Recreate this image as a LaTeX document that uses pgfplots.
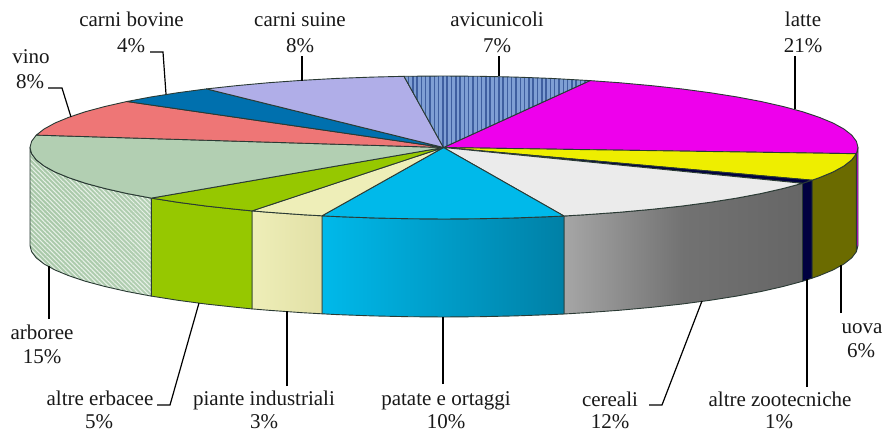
\documentclass[border=0pt]{standalone}
\usepackage{fontspec}
\setmainfont{Liberation Serif}
\usepackage{pgfplots}
\pgfplotsset{compat=1.18}
\usetikzlibrary{patterns.meta}

\definecolor{edge}{HTML}{2A3A34}
\definecolor{latte}{HTML}{EE00EC}
\definecolor{uovatop}{HTML}{EEEE00}
\definecolor{uovaside}{HTML}{6B6B00}
\definecolor{zoo}{HTML}{000040}
\definecolor{cerealitop}{HTML}{EBEBEB}
\definecolor{cerealiL}{HTML}{A6A6A6}
\definecolor{cerealiM}{HTML}{727272}
\definecolor{cerealiR}{HTML}{666666}
\definecolor{patate}{HTML}{00B9EA}
\definecolor{patateR}{HTML}{0080A6}
\definecolor{piante}{HTML}{EEEEB8}
\definecolor{pianteR}{HTML}{E2E0A6}
\definecolor{erbacee}{HTML}{96C800}
\definecolor{arboree}{HTML}{B2CFB2}
\definecolor{arboreeL}{HTML}{A8C8A8}
\definecolor{vino}{HTML}{EE7676}
\definecolor{bovine}{HTML}{0070AE}
\definecolor{suine}{HTML}{B0AEE8}
\definecolor{avi}{HTML}{7F9FD4}
\definecolor{aviline}{HTML}{3F5FA0}

\tikzset{
    lab/.style={anchor=base, inner sep=0pt, font=\fontsize{21}{24}\selectfont, text=black!90},
    slice/.style={draw=edge, line width=0.9pt, line join=round},
    lead/.style={draw=black, line width=1.2pt, line join=miter},
}

\begin{document}
\begin{tikzpicture}
\begin{axis}[
    scale only axis,
    width=884pt,
    height=431pt,
    xmin=0, xmax=884,
    ymin=0, ymax=431,
    y dir=reverse,
    hide axis,
    clip=false,
    no markers,
]
% frame, keeps the page at the full size
\addplot[draw=none, fill=white] coordinates {(0,0)(884,0)(884,431)(0,431)} -- cycle;

% side of the disc
\addplot[slice, fill=latte] coordinates {(858,147.5)(856.4,153.7)(856.4,251.7)(858,245.5)} -- cycle;
\addplot[slice, fill=uovaside] coordinates {(856.4,153.7)(851.7,159.9)(843.9,166)(833,172)(819.2,177.7)(812,180.2)
    (812,278.2)(819.2,275.7)(833,270)(843.9,264)(851.7,257.9)(856.4,251.7)} -- cycle;
\addplot[slice, fill=zoo] coordinates {(812,180.2)(802.5,183.3)(802.5,281.3)(812,278.2)} -- cycle;
\addplot[slice, left color=cerealiL, right color=cerealiR, middle color=cerealiM] coordinates {
    (802.5,183.3)(783.1,188.5)(761.1,193.5)(736.7,198.1)(710.1,202.3)(681.5,206.1)(651,209.4)(619,212.3)(585.6,214.7)(564,216)
    (564,314)(585.6,312.7)(619,310.3)(651,307.4)(681.5,304.1)(710.1,300.3)(736.7,296.1)(761.1,291.5)(783.1,286.5)(802.5,281.3)} -- cycle;
\addplot[slice, left color=patate, right color=patateR] coordinates {
    (564,216)(551.1,216.6)(515.9,217.9)(480.1,218.7)(444,219)(407.9,218.7)(372.1,217.9)(336.9,216.6)(322,215.8)
    (322,313.8)(336.9,314.6)(372.1,315.9)(407.9,316.7)(444,317)(480.1,316.7)(515.9,315.9)(551.1,314.6)(564,314)} -- cycle;
\addplot[slice, left color=piante, right color=pianteR] coordinates {
    (322,215.8)(302.4,214.7)(269,212.3)(252,210.9)(252,308.9)(269,310.3)(302.4,312.7)(322,313.8)} -- cycle;
\addplot[slice, fill=erbacee] coordinates {
    (252,210.9)(237,209.4)(206.5,206.1)(177.9,202.3)(151.3,198.1)(151.3,296.1)(177.9,300.3)(206.5,304.1)(237,307.4)(252,308.9)} -- cycle;
\addplot[draw=none, left color=arboreeL, right color=arboree] coordinates {
    (30,147.5)(31.6,153.7)(36.3,159.9)(44.1,166)(55,172)(68.8,177.7)(85.5,183.3)(104.9,188.5)(126.9,193.5)(151.3,198.1)
    (151.3,296.1)(126.9,291.5)(104.9,286.5)(85.5,281.3)(68.8,275.7)(55,270)(44.1,264)(36.3,257.9)(31.6,251.7)(30,245.5)} -- cycle;
\addplot[slice, pattern={Lines[angle=-45,distance=3.2pt,line width=1pt]}, pattern color=white!70!arboree] coordinates {
    (30,147.5)(31.6,153.7)(36.3,159.9)(44.1,166)(55,172)(68.8,177.7)(85.5,183.3)(104.9,188.5)(126.9,193.5)(151.3,198.1)
    (151.3,296.1)(126.9,291.5)(104.9,286.5)(85.5,281.3)(68.8,275.7)(55,270)(44.1,264)(36.3,257.9)(31.6,251.7)(30,245.5)} -- cycle;

% top of the disc
\addplot[slice, fill=latte] coordinates {(443.5,147.5)(590,80.6)(619,82.7)(651,85.6)(681.5,88.9)(710.1,92.7)(736.7,96.9)(761.1,101.5)(783.1,106.5)
    (802.5,111.7)(819.2,117.3)(833,123)(843.9,129)(851.7,135.1)(856.4,141.3)(858,147.5)(856.4,153.7)} -- cycle;
\addplot[slice, fill=uovatop] coordinates {(443.5,147.5)(856.4,153.7)(851.7,159.9)(843.9,166)(833,172)(819.2,177.7)(812,180.2)} -- cycle;
\addplot[slice, fill=zoo] coordinates {(443.5,147.5)(812,180.2)(802.5,183.3)} -- cycle;
\addplot[slice, fill=cerealitop] coordinates {(443.5,147.5)(802.5,183.3)(783.1,188.5)(761.1,193.5)(736.7,198.1)(710.1,202.3)(681.5,206.1)
    (651,209.4)(619,212.3)(585.6,214.7)(564,216)} -- cycle;
\addplot[slice, fill=patate] coordinates {(443.5,147.5)(564,216)(551.1,216.6)(515.9,217.9)(480.1,218.7)(444,219)(407.9,218.7)(372.1,217.9)(336.9,216.6)(322,215.8)} -- cycle;
\addplot[slice, fill=piante] coordinates {(443.5,147.5)(322,215.8)(302.4,214.7)(269,212.3)(252,210.9)} -- cycle;
\addplot[slice, fill=erbacee] coordinates {(443.5,147.5)(252,210.9)(237,209.4)(206.5,206.1)(177.9,202.3)(151.3,198.1)} -- cycle;
\addplot[slice, fill=arboree] coordinates {(443.5,147.5)(151.3,198.1)(126.9,193.5)(104.9,188.5)(85.5,183.3)(68.8,177.7)(55,172)(44.1,166)(36.3,159.9)
    (31.6,153.7)(30,147.5)(31.6,141.3)(36.3,135.1)} -- cycle;
\addplot[slice, fill=vino] coordinates {(443.5,147.5)(36.3,135.1)(44.1,129)(55,123)(68.8,117.3)(85.5,111.7)(104.9,106.5)(126.9,101.5)} -- cycle;
\addplot[slice, fill=bovine] coordinates {(443.5,147.5)(126.9,101.5)(151.3,96.9)(177.9,92.7)(206.5,88.9)} -- cycle;
\addplot[slice, fill=suine] coordinates {(443.5,147.5)(206.5,88.9)(237,85.6)(269,82.7)(302.4,80.3)(336.9,78.4)(372.1,77.1)(404,76.3)} -- cycle;
\addplot[draw=none, fill=avi] coordinates {(443.5,147.5)(404,76.3)(444,76)(480.1,76.3)(515.9,77.1)(551.1,78.4)(590,80.6)} -- cycle;
\addplot[slice, pattern={Lines[angle=90,distance=4.3pt,line width=1.5pt]}, pattern color=aviline] coordinates {
    (443.5,147.5)(404,76.3)(444,76)(480.1,76.3)(515.9,77.1)(551.1,78.4)(590,80.6)} -- cycle;

% leader lines
\addplot[lead] coordinates {(48,88)(62,88)(71,117)};
\addplot[lead] coordinates {(150,52)(163,52)(166,94)};
\addplot[lead] coordinates {(302,56)(302,81)};
\addplot[lead] coordinates {(499,56)(499,76)};
\addplot[lead] coordinates {(795,56)(795,109)};
\addplot[lead] coordinates {(841,313)(841,265)};
\addplot[lead] coordinates {(807,387)(807,279)};
\addplot[lead] coordinates {(649,405)(662,405)(702,301)};
\addplot[lead] coordinates {(443,384)(443,317)};
\addplot[lead] coordinates {(287,386)(287,311)};
\addplot[lead] coordinates {(157,405)(170,405)(199,303)};
\addplot[lead] coordinates {(49,319)(49,266)};

% labels
\node[lab] at (axis cs:31,63) {vino};
\node[lab] at (axis cs:30,88) {8\%};
\node[lab] at (axis cs:131.5,27) {carni bovine};
\node[lab] at (axis cs:131,52) {4\%};
\node[lab] at (axis cs:300,27) {carni suine};
\node[lab] at (axis cs:300,52) {8\%};
\node[lab] at (axis cs:497,27) {avicunicoli};
\node[lab] at (axis cs:497,52) {7\%};
\node[lab] at (axis cs:803,27) {latte};
\node[lab] at (axis cs:803,52) {21\%};
\node[lab] at (axis cs:862,333) {uova};
\node[lab] at (axis cs:861,357) {6\%};
\node[lab] at (axis cs:780,406) {altre zootecniche};
\node[lab] at (axis cs:779,428) {1\%};
\node[lab] at (axis cs:610,406) {cereali};
\node[lab] at (axis cs:610,428) {12\%};
\node[lab] at (axis cs:446,405) {patate e ortaggi};
\node[lab] at (axis cs:446,428) {10\%};
\node[lab] at (axis cs:264,405) {piante industriali};
\node[lab] at (axis cs:264,428) {3\%};
\node[lab] at (axis cs:100,405) {altre erbacee};
\node[lab] at (axis cs:99,428) {5\%};
\node[lab] at (axis cs:42,339) {arboree};
\node[lab] at (axis cs:42,363) {15\%};
\end{axis}
\end{tikzpicture}
\end{document}
